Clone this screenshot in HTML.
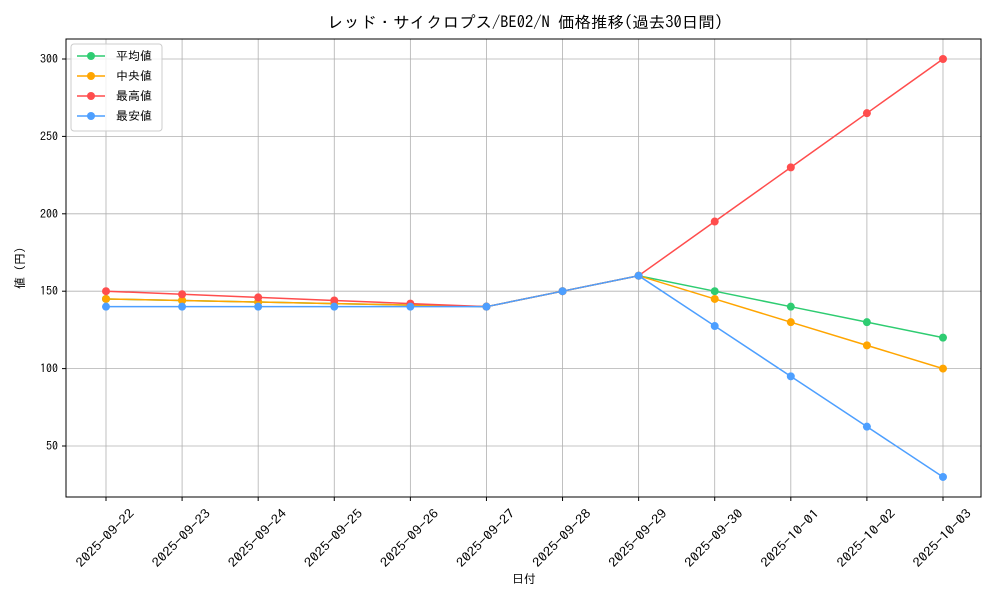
<!DOCTYPE html>
<html><head><meta charset="utf-8"><style>
body{margin:0;background:#fff;}
svg text{font-family:"IPAGothic","Noto Sans CJK JP",monospace;fill:#000;}
</style></head><body>
<svg width="1000" height="600" xmlns="http://www.w3.org/2000/svg">
<rect width="1000" height="600" fill="#fff"/>
<g id="grid" stroke="#b0b0b0" stroke-width="0.8"></g>
<rect x="66" y="39" width="915" height="458" fill="none" stroke="#000" stroke-width="1"/>
<g id="ticks"></g>
<g id="series"></g>
<text x="525" y="28" font-size="16" text-anchor="middle" textLength="396" lengthAdjust="spacingAndGlyphs">レッド・サイクロプス/BE02/N 価格推移(過去30日間)</text>
<text x="524" y="583" font-size="12" text-anchor="middle">日付</text>
<text transform="translate(24,268) rotate(-90)" font-size="12" text-anchor="middle">値 (円)</text>
<g>
<rect x="71" y="44" width="91" height="87" fill="#fff" fill-opacity="0.8" stroke="#ccc" rx="3"/>
<line x1="77" y1="56" x2="105" y2="56" stroke="#2ecc71" stroke-width="1.5"/><circle cx="91" cy="56" r="4" fill="#2ecc71"/><text x="116" y="60" font-size="12">平均値</text>
<line x1="77" y1="76" x2="105" y2="76" stroke="#ffa500" stroke-width="1.5"/><circle cx="91" cy="76" r="4" fill="#ffa500"/><text x="116" y="80" font-size="12">中央値</text>
<line x1="77" y1="96" x2="105" y2="96" stroke="#ff4d4d" stroke-width="1.5"/><circle cx="91" cy="96" r="4" fill="#ff4d4d"/><text x="116" y="100" font-size="12">最高値</text>
<line x1="77" y1="116" x2="105" y2="116" stroke="#4d9fff" stroke-width="1.5"/><circle cx="91" cy="116" r="4" fill="#4d9fff"/><text x="116" y="120" font-size="12">最安値</text>
</g>
</svg>
<script>
const ns="http://www.w3.org/2000/svg";
const X=i=>106+i*76.09, Y=v=>59+(300-v)*1.548;
const dates=["2025-09-22","2025-09-23","2025-09-24","2025-09-25","2025-09-26","2025-09-27","2025-09-28","2025-09-29","2025-09-30","2025-10-01","2025-10-02","2025-10-03"];
const g=document.getElementById("grid"),t=document.getElementById("ticks"),s=document.getElementById("series");
function el(p,n,a,txt){const e=document.createElementNS(ns,n);for(const k in a)e.setAttribute(k,a[k]);if(txt)e.textContent=txt;p.appendChild(e);return e;}
dates.forEach((d,i)=>{const x=X(i);el(g,"line",{x1:x,x2:x,y1:39,y2:497});el(t,"line",{x1:x,x2:x,y1:497,y2:501,stroke:"#000"});
el(t,"text",{transform:`translate(${x-1},${538}) rotate(-45)`,"font-size":"12.5","text-anchor":"middle","dominant-baseline":"central",textLength:"76",lengthAdjust:"spacingAndGlyphs"},d);});
[50,100,150,200,250,300].forEach(v=>{const y=Y(v);el(g,"line",{x1:66,x2:981,y1:y,y2:y});el(t,"line",{x1:62,x2:66,y1:y,y2:y,stroke:"#000"});
el(t,"text",{x:58,y:y+4,"font-size":"12","text-anchor":"end"},String(v));});
const data=[
["#2ecc71",[145,144,143,142,141,140,150,160,150,140,130,120]],
["#ffa500",[145,144,143,142,141,140,150,160,145,130,115,100]],
["#ff4d4d",[150,148,146,144,142,140,150,160,195,230,265,300]],
["#4d9fff",[140,140,140,140,140,140,150,160,127.5,95,62.5,30]]];
data.forEach(([c,vs])=>{el(s,"polyline",{points:vs.map((v,i)=>X(i)+","+Y(v)).join(" "),fill:"none",stroke:c,"stroke-width":"1.5"});
vs.forEach((v,i)=>el(s,"circle",{cx:X(i),cy:Y(v),r:4,fill:c}));});
</script>
</body></html>
